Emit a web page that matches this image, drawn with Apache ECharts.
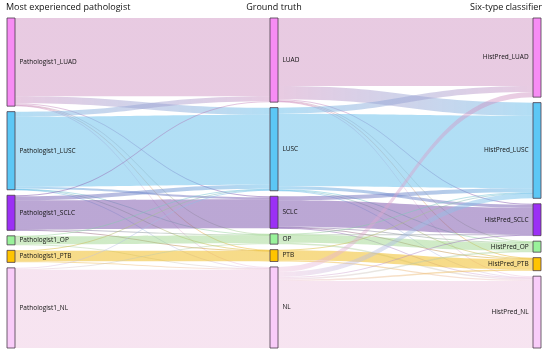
<!DOCTYPE html>
<html>
<head>
<meta charset="utf-8">
<script src="https://cdn.jsdelivr.net/npm/echarts@6/dist/echarts.min.js"></script>
<style>
  html, body { margin: 0; padding: 0; background: #fff; }
  #chart { width: 548px; height: 354px; }
</style>
</head>
<body>
<div id="chart"></div>
<script>
// column titles
const stageTitles = ['Most experienced pathologist', 'Ground truth', 'Six-type classifier']

// classes, in node order top to bottom
const classes = ['LUAD', 'LUSC', 'SCLC', 'OP', 'PTB', 'NL']
const pathologistNodes = ['Pathologist1_LUAD', 'Pathologist1_LUSC', 'Pathologist1_SCLC', 'Pathologist1_OP', 'Pathologist1_PTB', 'Pathologist1_NL']
const truthNodes = ['LUAD', 'LUSC', 'SCLC', 'OP', 'PTB', 'NL']
const predNodes = ['HistPred_LUAD', 'HistPred_LUSC', 'HistPred_SCLC', 'HistPred_OP', 'HistPred_PTB', 'HistPred_NL']

// flows pathologist -> ground truth (rows: pathologist, cols: truth)
const pathToTruth = [
  [78, 7, 1, 0.5, 0.5, 1],
  [5, 70, 2, 0.3, 0.3, 0.4],
  [1, 4, 29, 0.5, 0.5, 0],
  [0, 0.5, 0, 8, 0, 0.5],
  [0, 0.5, 0, 0, 10.5, 1],
  [0, 1, 0, 1, 0, 78]
]

// flows ground truth -> classifier (rows: truth, cols: prediction)
const truthToPred = [
  [68, 13, 1, 0.5, 0.5, 1],
  [6, 72.5, 3, 0.5, 0.5, 0.5],
  [0, 4, 26.5, 0.5, 0.5, 0.5],
  [0, 0.5, 0.3, 8, 0, 1.5],
  [0, 0.5, 0, 0, 10, 1.3],
  [5, 5, 1, 1.5, 1.5, 66.9]
]

const nodeColors = ['#f78cf4', '#5cc7f5', '#9b30f5', '#99f29a', '#ffc400', '#f9ccf9']
const linkColors = [
  'rgba(200,130,185,0.42)',
  'rgba(100,190,235,0.5)',
  'rgba(120,80,170,0.5)',
  'rgba(150,210,130,0.45)',
  'rgba(240,190,40,0.55)',
  'rgba(235,190,220,0.42)'
]

const nodes = []
pathologistNodes.forEach((n, i) => nodes.push({ name: n, itemStyle: { color: nodeColors[i] } }))
truthNodes.forEach((n, i) => nodes.push({ name: n, itemStyle: { color: nodeColors[i] } }))
predNodes.forEach((n, i) => nodes.push({ name: n, itemStyle: { color: nodeColors[i] }, label: { position: 'left' } }))

const links = []
function addLinks(srcNames, dstNames, matrix) {
  matrix.forEach((row, i) => {
    row.forEach((v, j) => {
      if (!v) return
      links.push({
        source: srcNames[i],
        target: dstNames[j],
        value: v,
        lineStyle: {
          color: new echarts.graphic.LinearGradient(0, 0, 1, 0, [
            { offset: 0, color: linkColors[i] },
            { offset: 1, color: linkColors[j] }
          ])
        }
      })
    })
  })
}
addLinks(pathologistNodes, truthNodes, pathToTruth)
addLinks(truthNodes, predNodes, truthToPred)

const titleStyle = { fontSize: 9, fontWeight: 'normal', color: '#111', fontFamily: 'Open Sans' }

const chart = echarts.init(document.getElementById('chart'))
chart.setOption({
  animation: false,
  title: [
    { text: stageTitles[0], left: 6, top: 3, padding: 0, textStyle: titleStyle },
    { text: stageTitles[1], left: 'center', top: 3, padding: 0, textStyle: titleStyle },
    { text: stageTitles[2], right: 6, top: 3, padding: 0, textStyle: titleStyle }
  ],
  series: [{
    type: 'sankey',
    left: 7,
    right: 7,
    top: 18,
    bottom: 6,
    nodeWidth: 8,
    nodeGap: 5.5,
    layoutIterations: 0,
    draggable: false,
    emphasis: { disabled: true },
    itemStyle: { borderColor: '#4a3a4a', borderWidth: 0.8 },
    lineStyle: { opacity: 1, curveness: 0.5 },
    label: { fontSize: 6.5, color: '#111', fontFamily: 'Open Sans', distance: 4 },
    data: nodes,
    links: links
  }]
})
</script>
</body>
</html>
